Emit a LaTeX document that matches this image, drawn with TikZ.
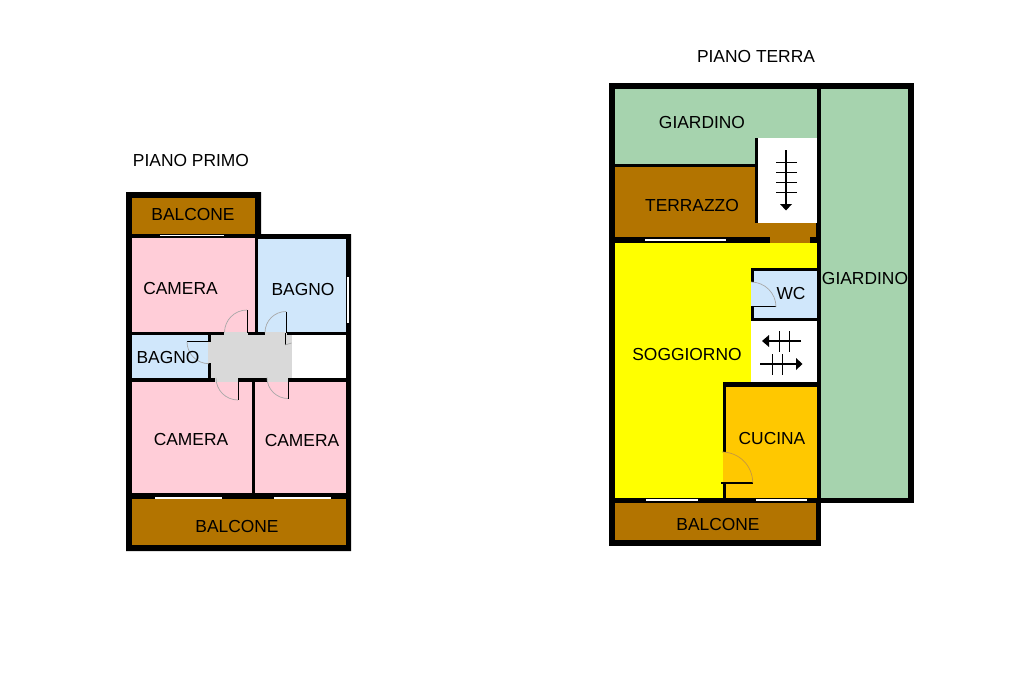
\documentclass[tikz,border=0pt]{standalone}
\usepackage{fontspec}
\setmainfont{Liberation Sans}
\definecolor{cpink}{HTML}{FFCDD8}
\definecolor{cblue}{HTML}{D0E7FB}
\definecolor{cbrown}{HTML}{B37400}
\definecolor{cgreen}{HTML}{A6D3AE}
\definecolor{cyel}{HTML}{FFFF00}
\definecolor{corange}{HTML}{FFC800}
\definecolor{cgray}{HTML}{D9D9D9}
\definecolor{carc}{HTML}{A8A8A8}
\tikzset{
  wall/.style={fill=black,draw=none},
  pinkroom/.style={fill=cpink,draw=none},
  blueroom/.style={fill=cblue,draw=none},
  brownroom/.style={fill=cbrown,draw=none},
  greenroom/.style={fill=cgreen,draw=none},
  yelroom/.style={fill=cyel,draw=none},
  orangeroom/.style={fill=corange,draw=none},
  grayroom/.style={fill=cgray,draw=none},
  whiteroom/.style={fill=white,draw=none},
  doorleaf/.style={draw=black,line width=1pt},
  doorarc/.style={draw=carc,line width=0.7pt},
  tick/.style={draw=black,line width=1pt},
  stair/.style={draw=black,line width=1.7pt},
  head/.style={fill=black,draw=none},
  lab/.style={font=\fontsize{17.4pt}{20pt}\selectfont,text=black,inner sep=0pt,anchor=center}
}
\begin{document}
\begin{tikzpicture}[x=1pt,y=-1pt]
\useasboundingbox (0,0) rectangle (1024,682);
\fill[white] (0,0) rectangle (1024,682);
% ---------- PIANO PRIMO
\path[wall] (126,192) -- (261,192) -- (261,234) -- (351,234) -- (351,551) -- (126,551) -- cycle;
\path[brownroom] (132,198) rectangle (255,234);
\path[pinkroom] (132,238) rectangle (255,331.5);
\path[blueroom] (258,239) rectangle (345.5,331.5);
\path[blueroom] (132,335) rectangle (208,378);
\path[whiteroom] (292,335) rectangle (345.5,378);
\path[pinkroom] (132,381.5) rectangle (252,492.5);
\path[pinkroom] (255,381.5) rectangle (345.5,492.5);
\path[brownroom] (132,499) rectangle (345.5,545);
% windows
\path[whiteroom] (160,234.6) rectangle (224,236.2);
\path[whiteroom] (347,277) rectangle (349.2,323);
\path[whiteroom] (155,497) rectangle (222,498.6);
\path[whiteroom] (274,497) rectangle (331,498.6);
% corridor
\path[grayroom] (211,335) rectangle (292,378);
\path[grayroom] (224,331.5) rectangle (248,335);
\path[grayroom] (265,331.5) rectangle (287,335);
\path[grayroom] (215,378) rectangle (238,381.5);
\path[grayroom] (267,378) rectangle (288,381.5);
\path[grayroom] (208,342) rectangle (211,363);
% doors
\draw[doorarc] (247,310) arc[start angle=-90,end angle=-180,radius=22.5];
\draw[doorleaf] (247,310) -- (247,333);
\draw[doorarc] (286,311.5) arc[start angle=-90,end angle=-180,radius=21];
\draw[doorleaf] (286,311.5) -- (286,333);
\draw[doorleaf] (285,333) -- (285,345);
\draw[doorarc] (285,345) -- (291.5,343);
\draw[doorleaf] (187,341.7) -- (209,341.7);
\draw[doorarc] (187,341.7) arc[start angle=180,end angle=90,radius=22];
\draw[doorarc] (238,400) arc[start angle=90,end angle=180,radius=22];
\draw[doorleaf] (238,381) -- (238,400);
\draw[doorarc] (288,398.5) arc[start angle=90,end angle=180,radius=21];
\draw[doorleaf] (288,381) -- (288,398.5);
% ---------- PIANO TERRA
\path[wall] (609,83.5) rectangle (914,503);
\path[wall] (609,503) rectangle (821,545.7);
\path[greenroom] (615,89) rectangle (817,163.5);
\path[greenroom] (821,89) rectangle (908,497.5);
\path[wall] (755,138) rectangle (757.7,167);
\path[whiteroom] (757.7,138) rectangle (817,223);
\path[brownroom] (615,167) rectangle (755,237);
\path[brownroom] (755,223) rectangle (816,237);
\path[brownroom] (770,237) rectangle (810,242.5);
\path[yelroom] (615,242.5) rectangle (816.5,498);
% WC
\path[wall] (751,267.7) rectangle (817,321);
\path[blueroom] (754,271) rectangle (817,318);
\path[blueroom] (751,282) rectangle (754,306.7);
% stairs 2
\path[whiteroom] (751,321) rectangle (817,382);
% kitchen
\path[wall] (722.7,382) rectangle (817,498);
\path[orangeroom] (725.5,387) rectangle (817,498);
\path[orangeroom] (722.7,452) rectangle (725.5,482);
% windows
\path[whiteroom] (645,239) rectangle (726,241);
\path[wall] (615,498) rectangle (817,503);
\path[whiteroom] (646,499) rectangle (698,501);
\path[whiteroom] (756,499) rectangle (807,501);
\path[brownroom] (615,503) rectangle (816,540);
% doors
\draw[doorleaf] (751,306.8) -- (776,306.8);
\draw[doorarc] (751,282) arc[start angle=-90,end angle=0,radius=25];
\draw[draw=black,line width=1.6pt] (721,482.7) -- (753,482.7);
\draw[draw=cbrown!75,line width=0.7pt] (722,452) arc[start angle=-90,end angle=0,radius=30.7];
% stair symbols
\draw[stair] (786,150) -- (786,205);
\foreach \yy in {162,172,182,192} \draw[tick] (776,\yy) -- (797,\yy);
\path[head] (780,204) -- (792,204) -- (786,210.5) -- cycle;
\draw[stair] (801,341) -- (768,341);
\path[head] (769,335) -- (769,347) -- (762,341) -- cycle;
\foreach \xx in {779.7,789.7} \draw[tick] (\xx,331) -- (\xx,352);
\draw[stair] (760,364) -- (797,364);
\path[head] (796,358) -- (796,370) -- (802.5,364) -- cycle;
\foreach \xx in {772.5,782.5} \draw[tick] (\xx,354) -- (\xx,375);
% ---------- labels
\node[lab] (tprimo) at (191,161) {PIANO PRIMO};
\node[lab] (tterra) at (756,57) {PIANO TERRA};
\node[lab] (balc1) at (193,215) {BALCONE};
\node[lab] (cam1) at (180.5,289) {CAMERA};
\node[lab] (bag1) at (303,290) {BAGNO};
\node[lab] (bag2) at (168,358) {BAGNO};
\node[lab] (cam2) at (191,440) {CAMERA};
\node[lab] (cam3) at (302,441) {CAMERA};
\node[lab] (balc2) at (237,527) {BALCONE};
\node[lab] (giar1) at (702,122.5) {GIARDINO};
\node[lab] (terr) at (692,206) {TERRAZZO};
\node[lab] (giar2) at (865,279) {GIARDINO};
\node[lab] (wc) at (791,294) {WC};
\node[lab] (sogg) at (687,355) {SOGGIORNO};
\node[lab] (cuc) at (772,439) {CUCINA};
\node[lab] (balc3) at (718,525) {BALCONE};
\end{tikzpicture}
\end{document}
